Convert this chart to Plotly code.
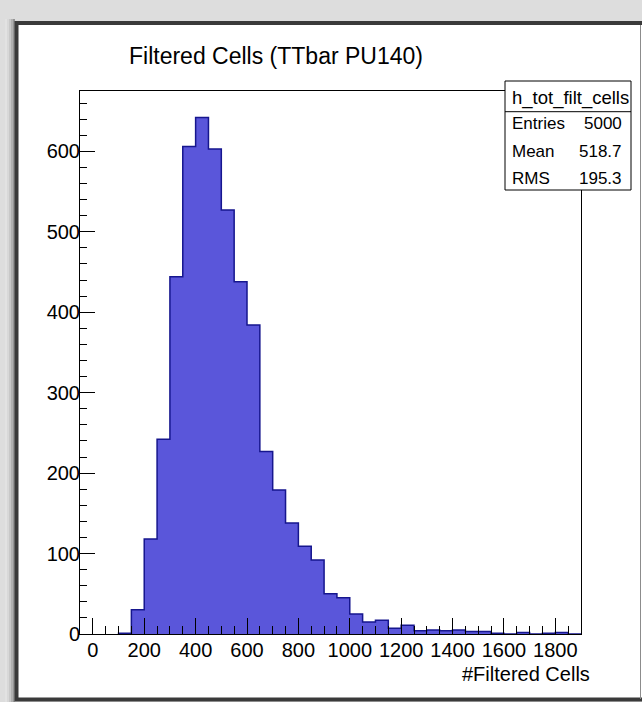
import plotly.graph_objects as go

# ---- histogram contents: h_tot_filt_cells (bin lower edges, width 50) ----
bin_low = [100, 150, 200, 250, 300, 350, 400, 450, 500, 550,
           600, 650, 700, 750, 800, 850, 900, 950, 1000, 1050,
           1100, 1150, 1200, 1250, 1300, 1350, 1400, 1450, 1500, 1550,
           1600, 1650, 1700, 1750, 1800, 1850]
counts = [1, 30, 118, 242, 444, 606, 642, 603, 527, 438,
          384, 227, 179, 138, 109, 92, 50, 45, 25, 15,
          17, 7, 11, 4, 5, 4, 5, 3, 3, 1,
          0, 2, 0, 1, 2, 0]
bin_width = 50
x_range = [-50, 1900]
y_range = [0, 675]

x_major = [0, 200, 400, 600, 800, 1000, 1200, 1400, 1600, 1800]
y_major = [0, 100, 200, 300, 400, 500, 600]

title_text = "Filtered Cells (TTbar PU140)"
x_title = "#Filtered Cells"
stats_name = "h_tot_filt_cells"
stats_rows = [("Entries", "5000"), ("Mean", "518.7"), ("RMS", "195.3")]

# ---- page geometry ----
W, H = 642, 702
ML, MR, MT, MB = 80, 61, 91, 68
PW, PH = W - ML - MR, H - MT - MB


def px(x):
    return (x - ML) / PW


def py(y):
    return (H - MB - y) / PH


FONT = "Liberation Sans, Arial, Helvetica, sans-serif"
FILL = "#5a56da"
EDGE = "#16168e"

# step outline of the histogram (ROOT-style)
xs = [bin_low[0]] + bin_low + [bin_low[-1] + bin_width]
ys = [0] + counts + [counts[-1]]
xs.append(bin_low[-1] + bin_width)
ys.append(0)

fig = go.Figure()
fig.add_trace(go.Scatter(
    x=xs, y=ys, mode="lines", line=dict(shape="hv", color=EDGE, width=1.5),
    fill="tozeroy", fillcolor=FILL, hoverinfo="skip", showlegend=False,
))

shapes = []
# window background / frame around the canvas
for i, g in enumerate(["#e2e2e2", "#d8d8d8", "#c8c8c8", "#b0b0b0", "#949494"]):
    shapes.append(dict(type="rect", xref="paper", yref="paper",
                       x0=px(5 + 2 * i), x1=px(7 + 2 * i), y0=py(H), y1=py(19),
                       fillcolor=g, line=dict(width=0), layer="below"))
shapes.append(dict(type="rect", xref="paper", yref="paper",
                   x0=px(16.5), x1=px(W + 10), y0=py(699.5), y1=py(23),
                   fillcolor="white", line=dict(color="#3a3a3a", width=4),
                   layer="below"))
shapes.append(dict(type="line", xref="paper", yref="paper",
                   x0=px(640.5), x1=px(640.5), y0=py(699), y1=py(25),
                   line=dict(color="#8c8c8c", width=1), layer="below"))

# statistics box
bx0, bx1, by0, by1, bsep = 505, 631, 81, 190, 111.7
shapes.append(dict(type="rect", xref="paper", yref="paper",
                   x0=px(bx0), x1=px(bx1), y0=py(by1), y1=py(by0),
                   fillcolor="white", line=dict(color="black", width=1),
                   layer="above"))
shapes.append(dict(type="line", xref="paper", yref="paper",
                   x0=px(bx0), x1=px(bx1), y0=py(bsep), y1=py(bsep),
                   line=dict(color="black", width=1), layer="above"))

annotations = [
    dict(text=title_text, x=px(276), y=py(56), xref="paper", yref="paper",
         xanchor="center", yanchor="middle", showarrow=False,
         font=dict(family=FONT, size=23, color="black")),
    dict(text=x_title, x=px(592), y=py(674), xref="paper", yref="paper",
         xanchor="right", yanchor="middle", showarrow=False,
         font=dict(family=FONT, size=20, color="black")),
    dict(text=stats_name, x=px(570), y=py(98), xref="paper", yref="paper",
         xanchor="center", yanchor="middle", showarrow=False,
         font=dict(family=FONT, size=18.5, color="black")),
]
for i, (k, v) in enumerate(stats_rows):
    yc = 124 + i * 27
    annotations.append(dict(text=k, x=px(510), y=py(yc), xref="paper", yref="paper",
                            xanchor="left", yanchor="middle", showarrow=False,
                            font=dict(family=FONT, size=17, color="black")))
    annotations.append(dict(text=v, x=px(624), y=py(yc), xref="paper", yref="paper",
                            xanchor="right", yanchor="middle", showarrow=False,
                            font=dict(family=FONT, size=17, color="black")))

axis_common = dict(
    showgrid=False, zeroline=False, showline=True, linecolor="black", linewidth=1,
    mirror=True, ticks="inside", tickcolor="black", tickwidth=1,
    tickfont=dict(family=FONT, size=20, color="black"),
)

fig.update_layout(
    width=W, height=H,
    margin=dict(l=ML, r=MR, t=MT, b=MB),
    paper_bgcolor="#dddddd", plot_bgcolor="white",
    shapes=shapes, annotations=annotations,
    xaxis=dict(range=x_range, tickvals=x_major, ticklen=16, ticklabelstandoff=-2,
               minor=dict(dtick=50, tick0=0, ticklen=8, ticks="inside",
                          tickcolor="black", tickwidth=1),
               **axis_common),
    yaxis=dict(range=y_range, tickvals=y_major, ticklen=15, ticklabelstandoff=-5,
               minor=dict(dtick=20, tick0=0, ticklen=7, ticks="inside",
                          tickcolor="black", tickwidth=1),
               **axis_common),
    showlegend=False,
)

fig.write_html("out.html")
